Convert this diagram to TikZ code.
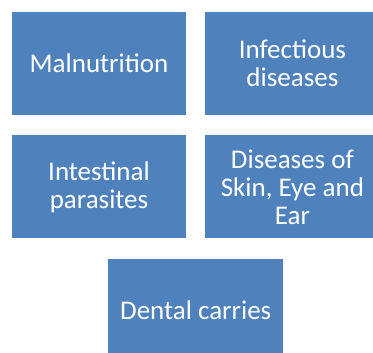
\documentclass[tikz,border=0pt]{standalone}
\usepackage{fontspec}
\setmainfont{Carlito}
\usepackage{tikz}
\usetikzlibrary{positioning, calc}
\definecolor{boxblue}{RGB}{79, 129, 189}

\tikzset{
  topicbox/.style={rectangle, fill=boxblue, text=white, align=center,
    minimum width=174pt, minimum height=103pt, inner sep=0pt,
    font=\fontsize{27}{28}\selectfont}
}

\begin{document}
\begin{tikzpicture}[x=1pt, y=-1pt, node distance=19pt]
\useasboundingbox (0,0) rectangle (373,353);

% Top row
\node[topicbox] (mal) at (99,63.5) {Malnutrition};
\node[topicbox, right=19pt of mal] (inf) {Infectious\\diseases};

% Middle row
\node[topicbox, below=20pt of mal] (intp) {Intestinal\\parasites};
\node[topicbox, right=19pt of intp] (skin) {Diseases of\\Skin, Eye and\\Ear};

% Bottom box
\node[topicbox, minimum width=175pt, below=20pt of {$(intp.south)!0.5!(skin.south)$},
      anchor=north] (dent) {Dental carries};

\end{tikzpicture}
\end{document}
